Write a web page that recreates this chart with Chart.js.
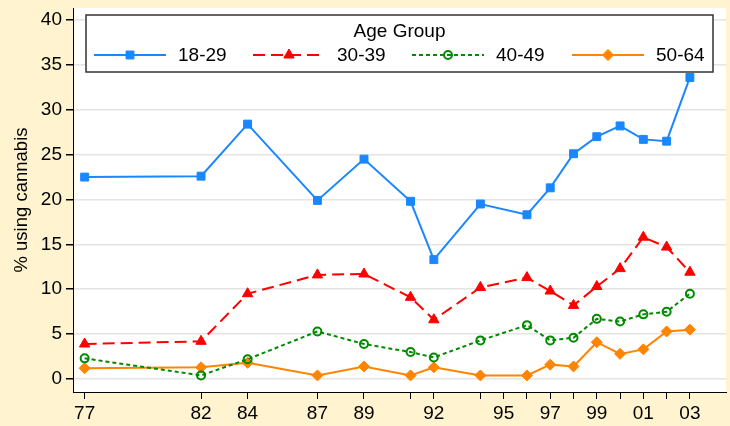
<!DOCTYPE html>
<html>
<head>
<meta charset="utf-8">
<script src="https://cdn.jsdelivr.net/npm/chart.js@4"></script>
<style>
  html, body { margin: 0; padding: 0; background: #fff4cf; }
  #wrap { width: 730px; height: 426px; }
</style>
</head>
<body>
<div id="wrap"><canvas id="chart" width="730" height="426"></canvas></div>
<script>
// survey years (77 .. 103 = 1977 .. 2003)
const years = [77, 82, 84, 87, 89, 91, 92, 94, 96, 97, 98, 99, 100, 101, 102, 103];
const age18to29 = [22.5, 22.6, 28.4, 19.9, 24.5, 19.8, 13.3, 19.5, 18.3, 21.3, 25.1, 27.0, 28.2, 26.7, 26.5, 33.6];
const age30to39 = [3.9, 4.2, 9.5, 11.6, 11.7, 9.1, 6.6, 10.2, 11.3, 9.8, 8.2, 10.3, 12.3, 15.8, 14.7, 11.9];
const age40to49 = [2.3, 0.4, 2.2, 5.3, 3.9, 3.0, 2.4, 4.3, 6.0, 4.3, 4.6, 6.7, 6.4, 7.2, 7.5, 9.5];
const age50to64 = [1.2, 1.3, 1.8, 0.4, 1.4, 0.4, 1.3, 0.4, 0.4, 1.6, 1.4, 4.1, 2.8, 3.3, 5.3, 5.5];

const xTickYears = [77, 82, 84, 87, 89, 91, 92, 94, 95, 96, 97, 98, 99, 100, 101, 102, 103];
const xLabelYears = [77, 82, 84, 87, 89, 92, 95, 97, 99, 101, 103];
const yTicks = [0, 5, 10, 15, 20, 25, 30, 35, 40];

const FONT = "'Liberation Sans', Arial, sans-serif";
Chart.defaults.font.family = FONT;
Chart.defaults.color = '#000';

const toPoints = vals => vals.map((v, i) => ({ x: years[i], y: v }));

const series = [
  { label: '18-29', data: age18to29, color: '#1a87ff', dash: [], style: 'rect', radius: 5.6, fill: true, bw: 1 },
  { label: '30-39', data: age30to39, color: '#ff0000', dash: [12, 6], style: 'triangle', radius: 6, fill: true, bw: 1 },
  { label: '40-49', data: age40to49, color: '#008a00', dash: [4, 3], style: 'circle', radius: 4, fill: false, bw: 2 },
  { label: '50-64', data: age50to64, color: '#ff8400', dash: [], style: 'rectRot', radius: 5.5, fill: true, bw: 1 }
];

const background = {
  id: 'background',
  beforeDraw(chart) {
    const { ctx, chartArea: a } = chart;
    ctx.save();
    ctx.fillStyle = '#fff4cf';
    ctx.fillRect(0, 0, chart.width, chart.height);
    ctx.fillStyle = '#ffffff';
    ctx.fillRect(a.left, a.top, a.right - a.left, a.bottom - a.top);
    ctx.restore();
  }
};

// legend box drawn inside the plot, Stata style
const boxLegend = {
  id: 'boxLegend',
  afterDatasetsDraw(chart) {
    const ctx = chart.ctx;
    const x0 = 86, y0 = 15, x1 = 713, y1 = 72;
    ctx.save();
    ctx.fillStyle = '#fff';
    ctx.fillRect(x0, y0, x1 - x0, y1 - y0);
    ctx.strokeStyle = '#333';
    ctx.lineWidth = 1.5;
    ctx.strokeRect(x0, y0, x1 - x0, y1 - y0);
    ctx.fillStyle = '#000';
    ctx.font = '19px ' + FONT;
    ctx.textAlign = 'center';
    ctx.textBaseline = 'middle';
    ctx.fillText('Age Group', (x0 + x1) / 2, 32);
    const starts = [94, 253, 412, 572];
    series.forEach((s, i) => {
      const lx = starts[i], ly = 55;
      ctx.strokeStyle = s.color;
      ctx.lineWidth = 2;
      ctx.setLineDash(s.dash);
      ctx.beginPath();
      ctx.moveTo(lx, ly);
      ctx.lineTo(lx + 72, ly);
      ctx.stroke();
      ctx.setLineDash([]);
      ctx.fillStyle = s.fill ? s.color : 'rgba(0,0,0,0)';
      ctx.lineWidth = s.bw;
      Chart.helpers.drawPoint(ctx, { pointStyle: s.style, radius: s.radius, rotation: 0, borderWidth: s.bw }, lx + 36, ly);
      ctx.fillStyle = '#000';
      ctx.textAlign = 'left';
      ctx.fillText(s.label, lx + 84, ly + 1);
    });
    ctx.restore();
  }
};

new Chart(document.getElementById('chart'), {
  type: 'line',
  data: {
    datasets: series.map(s => ({
      label: s.label,
      data: toPoints(s.data),
      borderColor: s.color,
      borderWidth: 2,
      borderDash: s.dash,
      pointStyle: s.style,
      pointRadius: s.radius,
      pointBackgroundColor: s.fill ? s.color : 'rgba(0,0,0,0)',
      pointBorderColor: s.color,
      pointBorderWidth: s.bw,
      tension: 0,
      fill: false
    }))
  },
  options: {
    responsive: false,
    animation: false,
    devicePixelRatio: 1,
    layout: { autoPadding: false, padding: { top: 8, right: 4, left: 0, bottom: 0 } },
    plugins: {
      legend: { display: false },
      tooltip: { enabled: false }
    },
    scales: {
      x: {
        type: 'linear',
        min: 76.5,
        max: 104.55,
        afterFit: scale => {
          scale.height = 34;
          scale.paddingLeft = 0;
          scale.paddingRight = 0;
        },
        afterBuildTicks: scale => { scale.ticks = xTickYears.map(v => ({ value: v })); },
        border: { color: '#000', width: 1 },
        grid: { drawOnChartArea: false, tickColor: '#000', tickLength: 7 },
        ticks: {
          autoSkip: false,
          maxRotation: 0,
          padding: 3,
          font: { size: 19 },
          callback: v => xLabelYears.includes(v) ? String(v % 100).padStart(2, '0') : ''
        }
      },
      y: {
        min: -1.45,
        max: 41.34,
        afterFit: scale => {
          scale.width = 73;
          scale.paddingTop = 0;
          scale.paddingBottom = 0;
        },
        afterBuildTicks: scale => { scale.ticks = yTicks.map(v => ({ value: v })); },
        border: { color: '#000', width: 1 },
        grid: { color: '#e4e4e4', lineWidth: 1.5, tickColor: '#000', tickLength: 7 },
        ticks: { padding: 4, font: { size: 19 } },
        title: {
          display: true,
          text: '% using cannabis',
          font: { size: 18.5 },
          padding: { top: 11, bottom: 0 }
        }
      }
    }
  },
  plugins: [background, boxLegend]
});
</script>
</body>
</html>
